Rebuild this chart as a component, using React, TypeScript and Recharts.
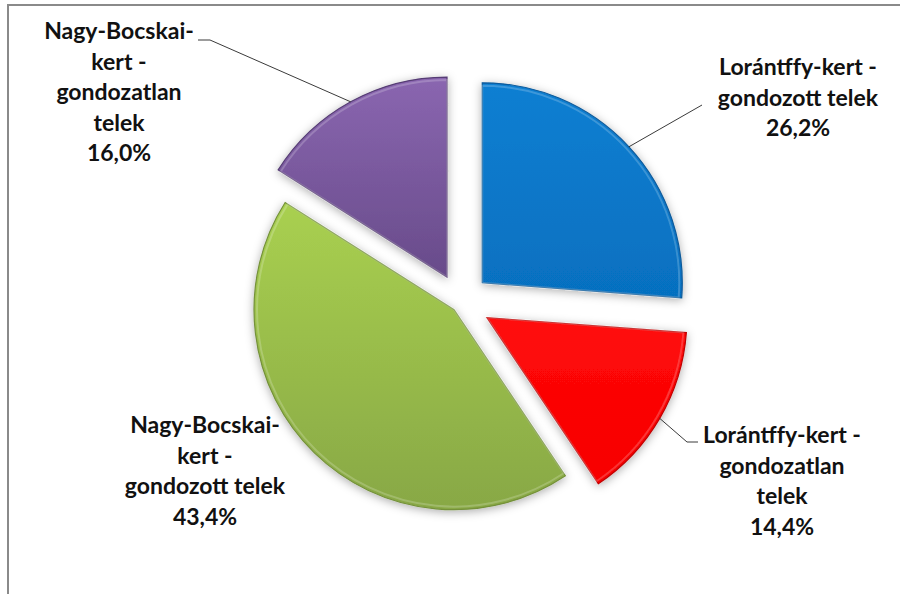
import React from 'react';
import { PieChart, Pie, Sector } from 'recharts';

// ---- data ----
const categories = [
  'Lorántffy-kert - gondozott telek',
  'Lorántffy-kert - gondozatlan telek',
  'Nagy-Bocskai-kert - gondozott telek',
  'Nagy-Bocskai-kert - gondozatlan telek',
];
const labelLines = [
  ['Lorántffy-kert -', 'gondozott telek'],
  ['Lorántffy-kert -', 'gondozatlan', 'telek'],
  ['Nagy-Bocskai-', 'kert -', 'gondozott telek'],
  ['Nagy-Bocskai-', 'kert -', 'gondozatlan', 'telek'],
];
const shares = [26.2, 14.4, 43.4, 16.0];

// ---- styles ----
const SLICE_STYLE = [
  { top: '#0d7fd2', bottom: '#0670c0', edge: '#0b5a9a', explode: 29, label: { dx: 337, dy: -227.5 }, leader: [[241, -197.5]] },
  { top: '#ff0a0a', bottom: '#f70000', edge: '#c00000', explode: 30, label: { dx: 321, dy: 140.5 }, leader: [[226, 139.5], [237, 139.5]] },
  { top: '#a9d050', bottom: '#88a845', edge: '#74913a', explode: 10, label: { dx: -256, dy: 130.5 }, leader: null },
  { top: '#8a66b0', bottom: '#684b8a', edge: '#563d74', explode: 29, label: { dx: -342, dy: -263.5 }, leader: [[-251, -262.5], [-263, -262.5]] },
];
const LINE_H = 30.6;
const FONT = 'Lato, "Open Sans", sans-serif';
const RAD = Math.PI / 180;

const data = categories.map((name, i) => ({ name, value: shares[i], idx: i }));

const getIdx = (p: any): number => {
  if (p && p.payload && typeof p.payload.idx === 'number') return p.payload.idx;
  if (p && typeof p.idx === 'number') return p.idx;
  return p.index ?? 0;
};

function ExplodedSector(props: any) {
  const { cx, cy, midAngle, innerRadius, outerRadius, startAngle, endAngle } = props;
  const i = getIdx(props);
  const st = SLICE_STYLE[i];
  const dx = st.explode * Math.cos(-midAngle * RAD);
  const dy = st.explode * Math.sin(-midAngle * RAD);
  return (
    <g filter="url(#sliceShadow)">
      <Sector
        cx={cx + dx}
        cy={cy + dy}
        innerRadius={innerRadius}
        outerRadius={outerRadius}
        startAngle={startAngle}
        endAngle={endAngle}
        fill={`url(#sliceGrad${i})`}
        stroke={st.edge}
        strokeWidth={1.2}
      />
      <Sector
        cx={cx + dx}
        cy={cy + dy}
        innerRadius={innerRadius}
        outerRadius={outerRadius - 3}
        startAngle={startAngle}
        endAngle={endAngle}
        fill="none"
        stroke="rgba(255,255,255,0.2)"
        strokeWidth={2}
      />
    </g>
  );
}

function SliceLabel(props: any) {
  const { cx, cy, midAngle, outerRadius } = props;
  const i = getIdx(props);
  const st = SLICE_STYLE[i];
  const ex = st.explode * Math.cos(-midAngle * RAD);
  const ey = st.explode * Math.sin(-midAngle * RAD);
  const sx = cx + ex + outerRadius * Math.cos(-midAngle * RAD);
  const sy = cy + ey + outerRadius * Math.sin(-midAngle * RAD);
  const lines = [...labelLines[i], shares[i].toFixed(1).replace('.', ',') + '%'];
  const tx = cx + st.label.dx;
  const ty = cy + st.label.dy;
  let path = '';
  if (st.leader) {
    path = `M${sx},${sy}` + st.leader.map(([lx, ly]) => ` L${cx + lx},${cy + ly}`).join('');
  }
  return (
    <g>
      {path && <path d={path} stroke="#3a3a3a" strokeWidth={1} fill="none" />}
      <text
        x={tx}
        y={ty}
        textAnchor="middle"
        fontFamily={FONT}
        fontWeight={700}
        fontSize={23}
        fill="#111"
      >
        {lines.map((l, k) => (
          <tspan key={k} x={tx} y={ty + k * LINE_H}>
            {l}
          </tspan>
        ))}
      </text>
    </g>
  );
}

export default function App() {
  return (
    <div style={{ position: 'absolute', left: 0, top: 0, width: 900, height: 594, overflow: 'hidden', background: '#fff' }}>
      <svg width={900} height={594} style={{ position: 'absolute', left: 0, top: 0 }}>
        <defs>
          {SLICE_STYLE.map((s, i) => (
            <linearGradient key={i} id={`sliceGrad${i}`} x1="0" y1="0" x2="0" y2="1">
              <stop offset="0%" stopColor={s.top} />
              <stop offset="100%" stopColor={s.bottom} />
            </linearGradient>
          ))}
          <filter id="sliceShadow" x="-25%" y="-25%" width="150%" height="150%">
            <feDropShadow dx={0} dy={2} stdDeviation={5} floodColor="#000" floodOpacity={0.32} />
          </filter>
        </defs>
        <path d="M8,600 L8,5 L905,5" stroke="#8a8a8a" strokeWidth={2} fill="none" />
      </svg>
      <div style={{ position: 'absolute', left: 0, top: 0 }}>
        <PieChart width={900} height={594} margin={{ top: 0, right: 0, bottom: 0, left: 0 }}>
          <Pie
            data={data}
            dataKey="value"
            nameKey="name"
            cx={461}
            cy={302.5}
            innerRadius={0}
            outerRadius={200}
            startAngle={90}
            endAngle={-270}
            stroke="none"
            isAnimationActive={false}
            shape={ExplodedSector}
            label={SliceLabel}
            labelLine={false}
          />
        </PieChart>
      </div>
    </div>
  );
}
